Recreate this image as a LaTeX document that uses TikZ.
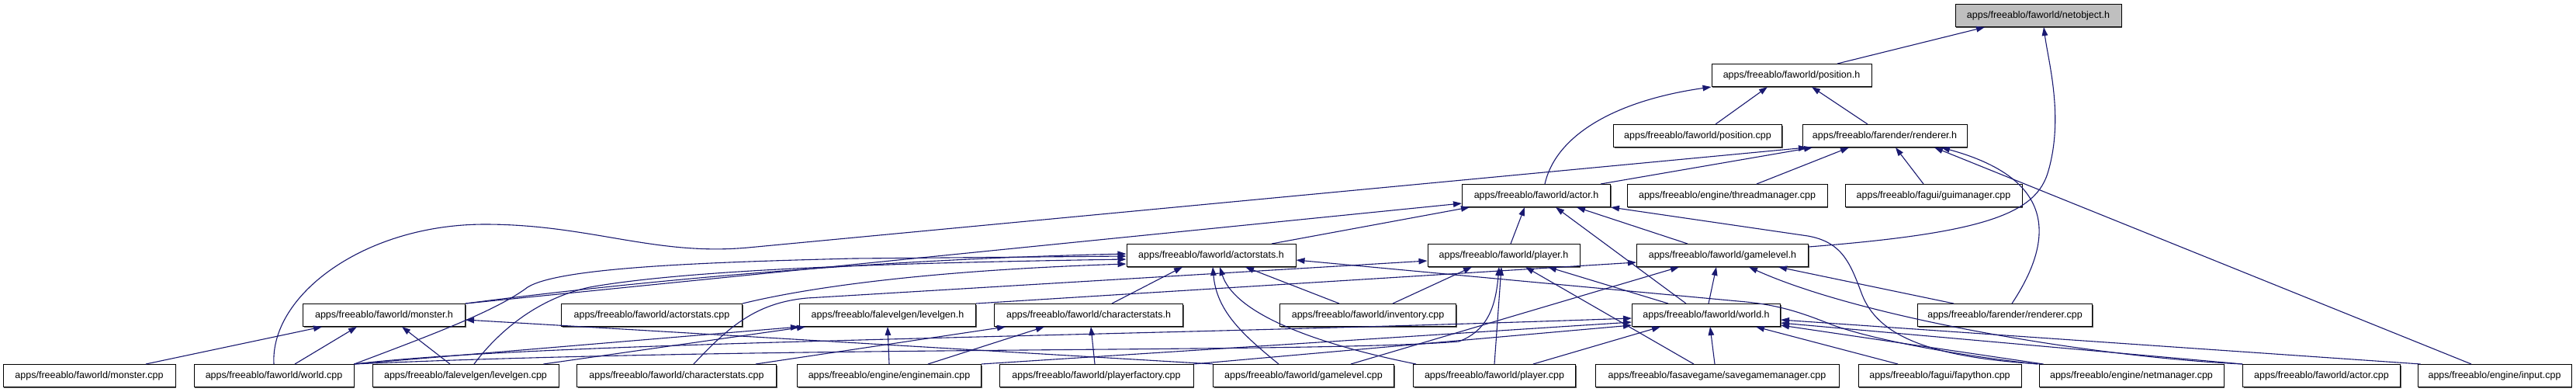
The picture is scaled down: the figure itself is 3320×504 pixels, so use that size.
\documentclass[tikz,border=0pt]{standalone}
\usepackage{fontspec}
\setmainfont{Liberation Sans}
\usepackage{tikz}
\usetikzlibrary{arrows.meta, shadows}
\definecolor{edgeblue}{RGB}{25,25,112}

\begin{document}
\begin{tikzpicture}[x=1pt, y=-1pt,
        filebox/.style={rectangle, draw=black, line width=1pt, fill=white, minimum height=29pt, inner sep=2pt,
            font=\fontsize{12.5}{14}\selectfont, general shadow={fill=black!65, shadow xshift=1.2pt, shadow yshift=-1.2pt}},
        incl/.style={-{Triangle[length=11pt, width=7.5pt]}, draw=edgeblue, line width=1.1pt}]

        \fill[white] (0,0) rectangle (3320,504);

        \node[filebox, minimum width=214pt, fill=black!25] (netobj) at (2627,20) {apps/freeablo/faworld/netobject.h};
        \node[filebox, minimum width=206pt] (posh) at (2309,97) {apps/freeablo/faworld/position.h};
        \node[filebox, minimum width=217pt] (poscpp) at (2188,175) {apps/freeablo/faworld/position.cpp};
        \node[filebox, minimum width=212pt] (rendh) at (2429,175) {apps/freeablo/farender/renderer.h};
        \node[filebox, minimum width=191pt] (actorh) at (1980,252) {apps/freeablo/faworld/actor.h};
        \node[filebox, minimum width=258pt] (thread) at (2226,252) {apps/freeablo/engine/threadmanager.cpp};
        \node[filebox, minimum width=228pt] (gui) at (2492,252) {apps/freeablo/fagui/guimanager.cpp};
        \node[filebox, minimum width=218pt] (statsh) at (1561,329) {apps/freeablo/faworld/actorstats.h};
        \node[filebox, minimum width=196pt] (playerh) at (1938,329) {apps/freeablo/faworld/player.h};
        \node[filebox, minimum width=221pt] (levelh) at (2220,329) {apps/freeablo/faworld/gamelevel.h};
        \node[filebox, minimum width=209pt] (monsterh) at (495,406) {apps/freeablo/faworld/monster.h};
        \node[filebox, minimum width=233pt] (statscpp) at (840,406) {apps/freeablo/faworld/actorstats.cpp};
        \node[filebox, minimum width=227pt] (genh) at (1144,406) {apps/freeablo/falevelgen/levelgen.h};
        \node[filebox, minimum width=243pt] (charh) at (1403,406) {apps/freeablo/faworld/characterstats.h};
        \node[filebox, minimum width=227pt] (inv) at (1763,406) {apps/freeablo/faworld/inventory.cpp};
        \node[filebox, minimum width=191pt] (worldh) at (2199,406) {apps/freeablo/faworld/world.h};
        \node[filebox, minimum width=225pt] (rendcpp) at (2584,406) {apps/freeablo/farender/renderer.cpp};
        \node[filebox, minimum width=222pt] (monstercpp) at (115,484) {apps/freeablo/faworld/monster.cpp};
        \node[filebox, minimum width=206pt] (worldcpp) at (353,484) {apps/freeablo/faworld/world.cpp};
        \node[filebox, minimum width=240pt] (gencpp) at (600,484) {apps/freeablo/falevelgen/levelgen.cpp};
        \node[filebox, minimum width=257pt] (charcpp) at (872,484) {apps/freeablo/faworld/characterstats.cpp};
        \node[filebox, minimum width=237pt] (enginemain) at (1146,484) {apps/freeablo/engine/enginemain.cpp};
        \node[filebox, minimum width=250pt] (factory) at (1413,484) {apps/freeablo/faworld/playerfactory.cpp};
        \node[filebox, minimum width=233pt] (levelcpp) at (1680,484) {apps/freeablo/faworld/gamelevel.cpp};
        \node[filebox, minimum width=209pt] (playercpp) at (1926,484) {apps/freeablo/faworld/player.cpp};
        \node[filebox, minimum width=314pt] (savegame) at (2213,484) {apps/freeablo/fasavegame/savegamemanager.cpp};
        \node[filebox, minimum width=210pt] (fapython) at (2500,484) {apps/freeablo/fagui/fapython.cpp};
        \node[filebox, minimum width=238pt] (netmgr) at (2747,484) {apps/freeablo/engine/netmanager.cpp};
        \node[filebox, minimum width=203pt] (actorcpp) at (2992,484) {apps/freeablo/faworld/actor.cpp};
        \node[filebox, minimum width=198pt] (input) at (3215,484) {apps/freeablo/engine/input.cpp};

        % netobject.h, position.h
        \draw[incl] ([xshift=59pt]posh.north) -- ([xshift=-69pt]netobj.south);
        \draw[incl] ([yshift=11pt]levelh.east) .. controls (2560,300) and (2625,275) .. (2640,220) .. controls (2660,150) and (2640,80) .. ([xshift=7pt]netobj.south);
        \draw[incl] ([xshift=11pt]actorh.north) .. controls (2005,175) and (2080,130) .. (posh.south west);
        \draw[incl] ([xshift=23pt]poscpp.north) -- ([xshift=-31pt]posh.south);
        \draw[incl] ([xshift=-22pt]rendh.north) -- ([xshift=26pt]posh.south);

        % renderer.h
        \draw[incl] (worldcpp.north) .. controls (348,380) and (470,289) .. (625,289) .. controls (760,289) and (844,330) .. (964,319) -- ([xshift=-100pt]rendh.south);
        \draw[incl] ([xshift=83pt]actorh.north) -- ([xshift=-93pt]rendh.south);
        \draw[incl] ([xshift=38pt]thread.north) -- ([xshift=-46pt]rendh.south);
        \draw[incl] ([xshift=-13pt]gui.north) -- ([xshift=14pt]rendh.south);
        \draw[incl] ([xshift=9pt]rendcpp.north) .. controls (2660,290) and (2630,225) .. ([xshift=73pt]rendh.south);
        \draw[incl] ([xshift=-30pt]input.north) -- ([xshift=64pt]rendh.south);

        % actor.h
        \draw[incl] (monsterh.north east) -- ([yshift=-10pt]actorh.west);
        \draw[incl] ([xshift=78pt]statsh.north) -- ([xshift=-86pt]actorh.south);
        \draw[incl] ([xshift=9pt]playerh.north) -- ([xshift=-15pt]actorh.south);
        \draw[incl] ([xshift=-26pt]worldh.north) -- ([xshift=25pt]actorh.south);
        \draw[incl] ([xshift=-45pt]levelh.north) -- ([xshift=52pt]actorh.south);
        \draw[incl] ([xshift=2pt]netmgr.north west) .. controls (2480,460) and (2420,430) .. (2400,380) .. controls (2385,340) and (2375,312) .. (2330,304) -- (actorh.south east);

        % actorstats.h
        \draw[incl] (monsterh.north east) .. controls (800,365) and (1100,335) .. ([yshift=2pt]statsh.west);
        \draw[incl] (worldcpp.north east) .. controls (560,430) and (640,400) .. (680,370) .. controls (720,345) and (900,338) .. (1100,333) -- ([yshift=-1pt]statsh.west);
        \draw[incl] ([xshift=11pt]gencpp.north) .. controls (640,430) and (690,385) .. (760,370) .. controls (900,345) and (1200,338) .. ([yshift=-5pt]statsh.west);
        \draw[incl] (statscpp.north east) .. controls (1010,378) and (1150,350) .. ([yshift=-11pt]statsh.west);
        \draw[incl] ([xshift=30pt]charh.north) -- ([xshift=-37pt]statsh.south);
        \draw[incl] ([xshift=-32pt]levelcpp.north) .. controls (1600,430) and (1568,400) .. ([xshift=2pt]statsh.south);
        \draw[incl] ([xshift=4pt]playercpp.north west) .. controls (1680,440) and (1590,400) .. ([xshift=11pt]statsh.south);
        \draw[incl] ([xshift=-37pt]inv.north) -- ([xshift=44pt]statsh.south);
        \draw[incl] ([xshift=-2pt]netmgr.north west) .. controls (2540,460) and (2420,440) .. (2360,418) .. controls (2320,402) and (2290,392) .. (2240,388) -- ([yshift=-6pt]statsh.east);

        % player.h
        \draw[incl] ([xshift=22pt]charcpp.north) .. controls (940,420) and (975,390) .. (1040,384) -- ([yshift=-7pt]playerh.west);
        \draw[incl] ([xshift=32pt]inv.north) -- ([xshift=-41pt]playerh.south);
        \draw[incl] (playercpp.north) -- ([xshift=-3pt]playerh.south);
        \draw[incl] (worldcpp.north east) .. controls (1000,445) and (1700,455) .. (1880,440) .. controls (1920,425) and (1928,390) .. ([xshift=-6pt]playerh.south);
        \draw[incl] ([xshift=-30pt]savegame.north) -- ([xshift=28pt]playerh.south);
        \draw[incl] ([xshift=-49pt]worldh.north) -- ([xshift=57pt]playerh.south);

        % gamelevel.h
        \draw[incl] (genh.north east) -- ([yshift=-9pt]levelh.west);
        \draw[incl] ([xshift=3pt]worldh.north) -- ([xshift=-8pt]levelh.south);
        \draw[incl] ([xshift=-66pt]rendcpp.north) -- ([xshift=72pt]levelh.south);
        \draw[incl] (actorcpp.north west) .. controls (2700,460) and (2400,410) .. ([xshift=34pt]levelh.south);
        \draw[incl] ([xshift=61pt]levelcpp.north) -- ([xshift=-56pt]levelh.south);

        % monster.h, levelgen.h, characterstats.h
        \draw[incl] ([xshift=73pt]monstercpp.north) -- ([xshift=-80pt]monsterh.south);
        \draw[incl] ([xshift=27pt]worldcpp.north) -- ([xshift=-35pt]monsterh.south);
        \draw[incl] ([xshift=-20pt]gencpp.north) -- ([xshift=23pt]monsterh.south);
        \draw[incl] (levelcpp.north west) -- ([yshift=-6pt]monsterh.east);
        \draw[incl] (worldcpp.north east) -- (genh.south west);
        \draw[incl] ([xshift=-20pt]gencpp.north east) -- ([xshift=-106pt]genh.south);
        \draw[incl] (enginemain.north) -- (genh.south);
        \draw[incl] ([xshift=-27pt]charcpp.north east) -- ([xshift=-107pt]charh.south);
        \draw[incl] ([xshift=50pt]enginemain.north) -- ([xshift=-57pt]charh.south);
        \draw[incl] ([xshift=-2pt]factory.north) -- ([xshift=3pt]charh.south);

        % world.h
        \draw[incl] (worldcpp.north east) .. controls (700,440) and (1400,435) .. ([yshift=-4pt]worldh.west);
        \draw[incl] (enginemain.north east) -- ([yshift=-9pt]worldh.west);
        \draw[incl] (factory.north east) -- ([yshift=-13pt]worldh.west);
        \draw[incl] ([xshift=50pt]playercpp.north) -- ([xshift=-59pt]worldh.south);
        \draw[incl] ([xshift=-3pt]savegame.north) -- ([xshift=5pt]worldh.south);
        \draw[incl] ([xshift=-54pt]fapython.north) -- ([xshift=64pt]worldh.south);
        \draw[incl] ([xshift=6pt]netmgr.north west) -- ([yshift=2pt]worldh.south east);
        \draw[incl] (actorcpp.north west) -- ([yshift=5pt]worldh.south east);
        \draw[incl] ([xshift=4pt]input.north west) -- ([yshift=-6pt]worldh.east);
    \end{tikzpicture}
\end{document}
